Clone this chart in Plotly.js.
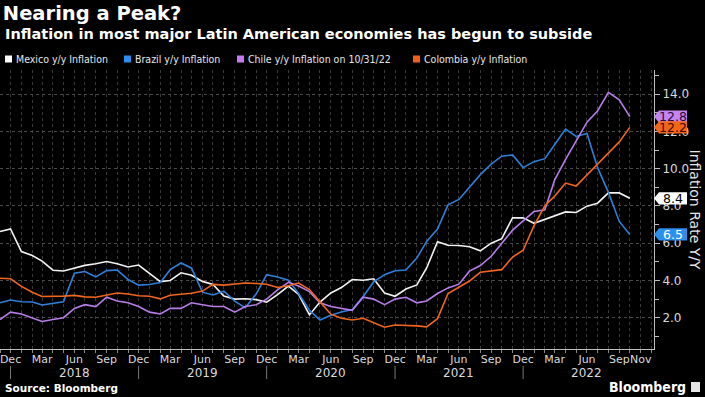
<!DOCTYPE html>
<html><head><meta charset="utf-8">
<script src="https://cdn.plot.ly/plotly-3.0.1.min.js"></script>
<style>html,body{margin:0;padding:0;background:#000;}#chart{width:705px;height:397px;}</style>
</head><body><div id="chart"></div>
<script>
// Monthly data, Nov 2017 .. Oct 2022
const firstMonth = {year: 2017, month: 11};
const mexico = [6.63,6.77, 5.55,5.34,5.04,4.55,4.51,4.65,4.81,4.90,5.02,4.90,4.72,4.83,
  4.37,3.94,4.00,4.41,4.28,3.95,3.78,3.16,3.00,3.02,2.97,2.83,
  3.24,3.70,3.25,2.15,2.84,3.33,3.62,4.05,4.01,4.09,3.33,3.15,
  3.54,3.76,4.67,6.08,5.89,5.88,5.81,5.59,6.00,6.24,7.37,7.36,
  7.07,7.28,7.45,7.68,7.65,7.99,8.15,8.70,8.70,8.41];
const brazil = [2.80,2.95, 2.86,2.84,2.68,2.76,2.86,4.39,4.48,4.19,4.53,4.56,4.05,3.75,
  3.78,3.89,4.58,4.94,4.66,3.37,3.22,3.43,2.89,2.54,3.27,4.31,
  4.19,4.01,3.30,2.40,1.88,2.13,2.31,2.44,3.14,3.92,4.31,4.52,
  4.56,5.20,6.10,6.76,8.06,8.35,8.99,9.68,10.25,10.67,10.74,10.06,
  10.38,10.54,11.30,12.13,11.73,11.89,10.07,8.73,7.17,6.47];
const chile = [1.9,2.3, 2.2,2.0,1.8,1.9,2.0,2.5,2.7,2.6,3.1,2.9,2.8,2.6,
  2.3,2.2,2.5,2.5,2.8,2.7,2.6,2.6,2.3,2.6,2.7,3.0,
  3.5,3.9,3.7,3.4,2.8,2.6,2.5,2.4,3.1,3.0,2.7,3.0,
  3.1,2.8,2.9,3.3,3.6,3.8,4.5,4.8,5.3,6.0,6.7,7.2,
  7.7,7.8,9.4,10.5,11.5,12.5,13.1,14.1,13.7,12.8];
const colombia = [4.12,4.09, 3.68,3.37,3.14,3.13,3.16,3.20,3.12,3.10,3.23,3.33,3.27,3.18,
  3.15,3.01,3.21,3.25,3.31,3.43,3.79,3.75,3.82,3.86,3.84,3.80,
  3.62,3.72,3.86,3.51,2.85,2.19,1.97,1.88,1.97,1.75,1.49,1.61,
  1.60,1.56,1.51,1.95,3.30,3.63,3.97,4.44,4.51,4.58,5.26,5.62,
  6.94,8.01,8.53,9.23,9.07,9.67,10.21,10.84,11.44,12.22];

const seriesNames = ['Mexico y/y Inflation','Brazil y/y Inflation','Chile y/y Inflation on 10/31/22','Colombia y/y Inflation'];
const xTickVals = ['2017-12-01','2018-03-01','2018-06-01','2018-09-01','2018-12-01','2019-03-01','2019-06-01','2019-09-01',
  '2019-12-01','2020-03-01','2020-06-01','2020-09-01','2020-12-01','2021-03-01','2021-06-01','2021-09-01',
  '2021-12-01','2022-03-01','2022-06-01','2022-09-01','2022-11-01'];
const xTickText = ['Dec','Mar','Jun','Sep','Dec','Mar','Jun','Sep','Dec','Mar','Jun','Sep','Dec','Mar','Jun','Sep','Dec','Mar','Jun','Sep','Nov'];
const yearLabels = ['2018','2019','2020','2021','2022'];
const yearCenters = ['2018-06-01','2019-06-01','2020-06-01','2021-06-01','2022-06-01'];
const yearSeparators = ['2017-12-01','2018-12-01','2019-12-01','2020-12-01','2021-12-01'];
const yTickVals = [2,4,6,8,10,12,14];
const yTickText = ['2.0','4.0','6.0','8.0','10.0','12.0','14.0'];

function monthDates(n){
  const out=[]; let y=firstMonth.year, m=firstMonth.month;
  for(let i=0;i<n;i++){ out.push(y+'-'+String(m).padStart(2,'0')+'-01'); m++; if(m>12){m=1;y++;} }
  return out;
}
const dates = monthDates(mexico.length);

const lineColors = ['#f2f2f2','#2f80d8','#b77eea','#f0661e'];
const squareColors = ['#ffffff','#2b8ff0','#c07cf0','#f0601a'];
const boxBg = ['#ffffff','#2b8ff0','#c484f2','#f2661a'];
const boxText = ['#000000','#ffffff','#2a0a40','#3a0c00'];
const allSeries = [mexico, brazil, chile, colombia];

const F = '"DejaVu Sans", sans-serif';
const FC = '"DejaVu Sans Condensed", "Liberation Sans Narrow", "DejaVu Sans", sans-serif';

const traces = allSeries.map((s,i)=>({
  x: dates, y: s, type:'scatter', mode:'lines', name: seriesNames[i],
  line:{color: lineColors[i], width:1.6}, hoverinfo:'skip', showlegend:false
}));

// pixel helpers for paper coords (plot area 0..654 x 70..349)
const PW = 654, PT = 70, PB = 349, PH = PB-PT;
const px = v => v/PW;
const py = v => (PB - v)/PH;

const annotations = [];
const shapes = [];

// subtitle
annotations.push({xref:'paper', yref:'paper', x:px(3), y:py(34), xanchor:'left', yanchor:'middle',
  text:'<b>Inflation in most major Latin American economies has begun to subside</b>', showarrow:false,
  font:{family:F, size:14.5, color:'#ffffff'}});

// legend
const legendSquareX = [5, 124, 237, 413];
legendSquareX.forEach((sx,i)=>{
  shapes.push({type:'rect', xref:'paper', yref:'paper', x0:px(sx), x1:px(sx+7), y0:py(62.5), y1:py(55.5),
    fillcolor:squareColors[i], line:{width:0}});
  annotations.push({xref:'paper', yref:'paper', x:px(sx+9), y:py(59), xanchor:'left', yanchor:'middle',
    text:seriesNames[i], showarrow:false, font:{family:FC, size:10.5, color:'#e6e6e6'}});
});

// end-value labels: arrow-shaped boxes at each series' last value
const halfBox = 0.33;
allSeries.forEach((s,i)=>{
  const v = s[s.length-1];
  shapes.push({type:'path', xref:'paper', yref:'y', layer:'above',
    path:`M ${px(654)},${v} L ${px(659)},${v+halfBox} L ${px(687)},${v+halfBox} L ${px(687)},${v-halfBox} L ${px(659)},${v-halfBox} Z`,
    fillcolor:boxBg[i], line:{width:0}});
  annotations.push({xref:'paper', yref:'y', x:px(672.5), y:v, xanchor:'center', yanchor:'middle',
    text:v.toFixed(1), showarrow:false, font:{family:F, size:12.5, color:boxText[i]}});
});

// y axis title (reads downward)
annotations.push({xref:'paper', yref:'paper', x:px(695), y:0.5, xanchor:'center', yanchor:'middle',
  text:'Inflation Rate Y/Y', textangle:90, showarrow:false, font:{family:F, size:14, color:'#e6e6e6'}});

// year labels and separators
yearLabels.forEach((t,i)=>{
  annotations.push({xref:'x', yref:'paper', x:yearCenters[i], y:py(373), xanchor:'center', yanchor:'middle',
    text:t, showarrow:false, font:{family:F, size:12, color:'#d9d9d9'}});
});
yearSeparators.forEach(d=>{
  shapes.push({type:'line', xref:'x', yref:'paper', x0:d, x1:d, y0:py(366), y1:py(379),
    line:{color:'#777', width:1}});
});

// source + logo
annotations.push({xref:'paper', yref:'paper', x:px(3), y:py(388), xanchor:'left', yanchor:'middle',
  text:'<b>Source: Bloomberg</b>', showarrow:false, font:{family:F, size:10.5, color:'#ffffff'}});
annotations.push({xref:'paper', yref:'paper', x:px(688), y:py(387), xanchor:'right', yanchor:'middle',
  text:'<b>Bloomberg</b>', showarrow:false, font:{family:FC, size:14, color:'#ffffff'}});
shapes.push({type:'rect', xref:'paper', yref:'paper', x0:px(691), x1:px(700), y0:py(392), y1:py(382),
  fillcolor:'#e6e6e6', line:{width:0}});

const layout = {
  width:705, height:397,
  paper_bgcolor:'#000', plot_bgcolor:'#000',
  margin:{l:0, r:51, t:70, b:48},
  title:{text:'<b>Nearing a Peak?</b>', x:0.004, xanchor:'left', xref:'container', yref:'container',
    y:1-13/397, yanchor:'middle', font:{family:F, size:19.5, color:'#ffffff'}},
  showlegend:false,
  xaxis:{type:'date', range:['2017-11-01','2022-12-09'], tickmode:'array', tickvals:xTickVals, ticktext:xTickText,
    tickangle:0, automargin:false, ticklabeloverflow:'allow',
    showline:true, linecolor:'#bdbdbd', linewidth:1, ticks:'', ticklen:0,
    showgrid:true, gridcolor:'#3a3a3a', griddash:'dot', gridwidth:1, zeroline:false,
    tickfont:{family:F, size:11, color:'#d9d9d9'},
    minor:{dtick:'M1', tick0:'2017-12-01', showgrid:true, gridcolor:'#3a3a3a', griddash:'dot', gridwidth:1,
      ticks:'outside', ticklen:3, tickcolor:'#888'}},
  yaxis:{side:'right', range:[0.32,15.3], tickmode:'array', tickvals:yTickVals, ticktext:yTickText,
    automargin:false,
    showline:true, linecolor:'#bdbdbd', linewidth:1, ticks:'outside', ticklen:5, tickcolor:'#bdbdbd',
    showgrid:true, gridcolor:'#4a4a4a', griddash:'dot', gridwidth:1, zeroline:false,
    tickfont:{family:F, size:12, color:'#d9d9d9'},
    minor:{tick0:1, dtick:1, ticks:'outside', ticklen:4, tickcolor:'#bdbdbd', showgrid:false}},
  annotations, shapes
};

Plotly.newPlot('chart', traces, layout, {staticPlot:true, displayModeBar:false});
</script></body></html>
